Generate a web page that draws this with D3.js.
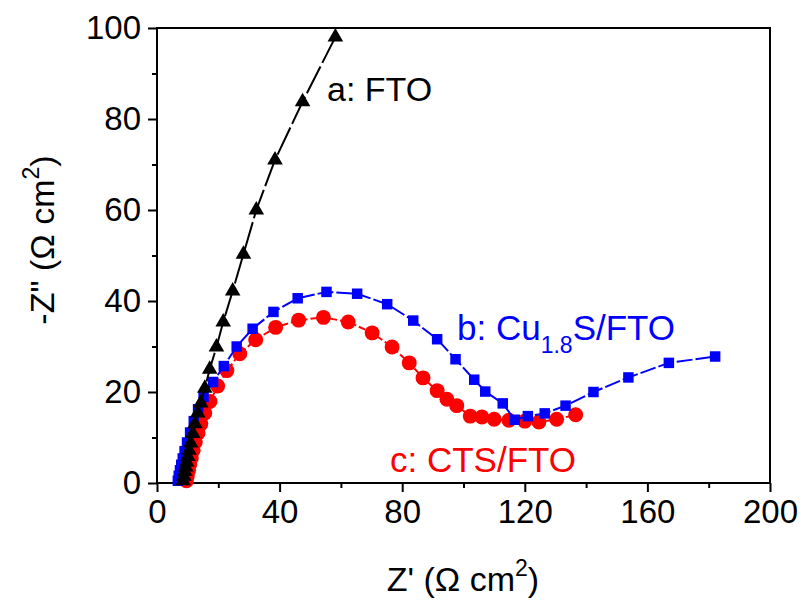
<!DOCTYPE html>
<html>
<head>
<meta charset="utf-8">
<script src="https://cdn.jsdelivr.net/npm/d3@7"></script>
<style>
  body { margin: 0; background: #fff; }
  text { font-family: "Liberation Sans", Arial, sans-serif; }
</style>
</head>
<body>
<script>
// Z' and -Z'' values
let ftoX = [8.5, 8.8, 9.1, 9.4, 9.7, 10.1, 10.5, 11.0, 11.7, 12.4, 13.3, 14.3, 15.6, 17.2, 19.4, 21.6, 24.7, 28.2, 32.4, 38.5, 47.5, 58.2]
let ftoY = [0.5, 1.5, 2.5, 3.5, 4.6, 5.8, 7.2, 8.8, 10.9, 13.0, 15.4, 17.6, 20.8, 25.0, 29.9, 35.4, 42.2, 50.3, 60.0, 71.0, 83.8, 98.0]

let cusX = [6.8, 7.1, 7.5, 7.9, 8.4, 9.0, 9.8, 10.8, 12.0, 13.4, 15.2, 18.3, 21.8, 26.0, 31.2, 38.0, 45.9, 55.3, 65.3, 75.1, 83.6, 91.4, 97.4, 103.5, 107.1, 112.8, 116.7, 121.0, 126.5, 133.3, 142.4, 153.8, 167.0, 182.1]
let cusY = [0.5, 1.6, 2.8, 4.0, 5.4, 7.0, 8.9, 11.1, 13.6, 16.2, 18.9, 22.2, 25.7, 30.0, 33.9, 37.6, 40.6, 42.0, 41.6, 39.3, 35.7, 31.6, 27.2, 22.7, 20.1, 17.5, 13.9, 14.7, 15.3, 17.0, 20.0, 23.2, 26.4, 27.8]

let ctsX = [9.6, 9.9, 10.3, 10.7, 11.2, 11.8, 12.5, 13.4, 14.3, 15.6, 17.3, 19.8, 22.8, 27.0, 32.2, 38.7, 46.2, 54.3, 62.4, 70.2, 76.7, 82.3, 86.8, 91.4, 94.6, 97.8, 102.2, 106.0, 110.0, 114.8, 120.0, 124.6, 130.4, 136.6]
let ctsY = [0.5, 1.6, 2.8, 4.1, 5.5, 7.2, 9.0, 11.0, 13.0, 15.4, 17.9, 21.3, 24.7, 28.4, 31.5, 34.2, 35.8, 36.4, 35.4, 33.0, 29.9, 26.4, 23.1, 20.3, 18.4, 17.0, 14.7, 14.5, 14.0, 13.8, 13.6, 13.4, 14.0, 15.0]

let xTicks = [0, 40, 80, 120, 160, 200]
let yTicks = [0, 20, 40, 60, 80, 100]

let w = 801, h = 601
let mLeft = 157, mRight = 770, mTop = 28, mBottom = 483

let svg = d3.select('body')
  .append('svg')
  .attr('width', w)
  .attr('height', h)

let x = d3.scaleLinear().domain([0, 200]).range([mLeft, mRight])
let y = d3.scaleLinear().domain([0, 100]).range([mBottom, mTop])

// frame
svg.append('rect')
  .attr('x', mLeft)
  .attr('y', mTop)
  .attr('width', mRight - mLeft)
  .attr('height', mBottom - mTop)
  .attr('fill', 'none')
  .attr('stroke', 'black')
  .attr('stroke-width', 2)

function styleAxis(g) {
  g.select('.domain').remove()
  g.selectAll('line').attr('stroke', 'black').attr('stroke-width', 2)
  g.selectAll('text')
    .style('font-family', '"Liberation Sans", Arial, sans-serif')
    .style('font-size', '33px')
    .attr('fill', 'black')
}

// minor ticks
svg.append('g')
  .attr('transform', 'translate(0,' + mBottom + ')')
  .call(d3.axisBottom(x).tickValues(d3.range(20, 200, 40)).tickSize(5).tickFormat(''))
  .call(styleAxis)

svg.append('g')
  .attr('transform', 'translate(' + mLeft + ',0)')
  .call(d3.axisLeft(y).tickValues(d3.range(10, 100, 20)).tickSize(5).tickFormat(''))
  .call(styleAxis)

// major ticks
svg.append('g')
  .attr('transform', 'translate(0,' + mBottom + ')')
  .call(d3.axisBottom(x).tickValues(xTicks).tickSize(9).tickPadding(8))
  .call(styleAxis)

svg.append('g')
  .attr('transform', 'translate(' + mLeft + ',0)')
  .call(d3.axisLeft(y).tickValues(yTicks).tickSize(9).tickPadding(7))
  .call(styleAxis)

// axis titles
let xt = svg.append('text')
  .attr('x', 463)
  .attr('y', 591)
  .attr('text-anchor', 'middle')
  .style('font-size', '34px')
xt.append('tspan').text("Z' (\u03A9 cm")
xt.append('tspan').attr('dy', -15).style('font-size', '23px').text('2')
xt.append('tspan').attr('dy', 15).text(')')

let yt = svg.append('text')
  .attr('transform', 'translate(54,240) rotate(-90)')
  .attr('text-anchor', 'middle')
  .style('font-size', '34px')
yt.append('tspan').text('-Z" (\u03A9 cm')
yt.append('tspan').attr('dy', -15).style('font-size', '23px').text('2')
yt.append('tspan').attr('dy', 15).text(')')

function toPts(xs, ys) {
  return xs.map(function (d, i) { return [d, ys[i]] })
}

let line = d3.line()
  .x(function (d) { return x(d[0]) })
  .y(function (d) { return y(d[1]) })

let series = [
  { pts: toPts(ctsX, ctsY), color: '#ff0000', dash: '7,3', sym: d3.symbolCircle, size: 175 },
  { pts: toPts(cusX, cusY), color: '#0000ff', dash: '16,3', sym: d3.symbolSquare, size: 110 },
  { pts: toPts(ftoX, ftoY), color: '#000000', dash: '30,4', sym: d3.symbolTriangle, size: 105 }
]

series.forEach(function (s) {
  svg.append('path')
    .datum(s.pts)
    .attr('d', line)
    .attr('fill', 'none')
    .attr('stroke', s.color)
    .attr('stroke-width', 2)
    .attr('stroke-dasharray', s.dash)

  svg.selectAll(null)
    .data(s.pts)
    .enter()
    .append('path')
    .attr('d', d3.symbol().type(s.sym).size(s.size))
    .attr('transform', function (d) { return 'translate(' + x(d[0]) + ',' + y(d[1]) + ')' })
    .attr('fill', s.color)
})

// series labels
svg.append('text')
  .attr('x', 327)
  .attr('y', 101)
  .style('font-size', '34px')
  .attr('fill', 'black')
  .text('a: FTO')

let lb = svg.append('text')
  .attr('x', 457)
  .attr('y', 340)
  .style('font-size', '35px')
  .attr('fill', '#0000ff')
lb.append('tspan').text('b: Cu')
lb.append('tspan').attr('dy', 13).style('font-size', '23px').text('1.8')
lb.append('tspan').attr('dy', -13).text('S/FTO')

svg.append('text')
  .attr('x', 390)
  .attr('y', 472)
  .style('font-size', '35px')
  .attr('fill', '#ff0000')
  .text('c: CTS/FTO')
</script>
</body>
</html>
